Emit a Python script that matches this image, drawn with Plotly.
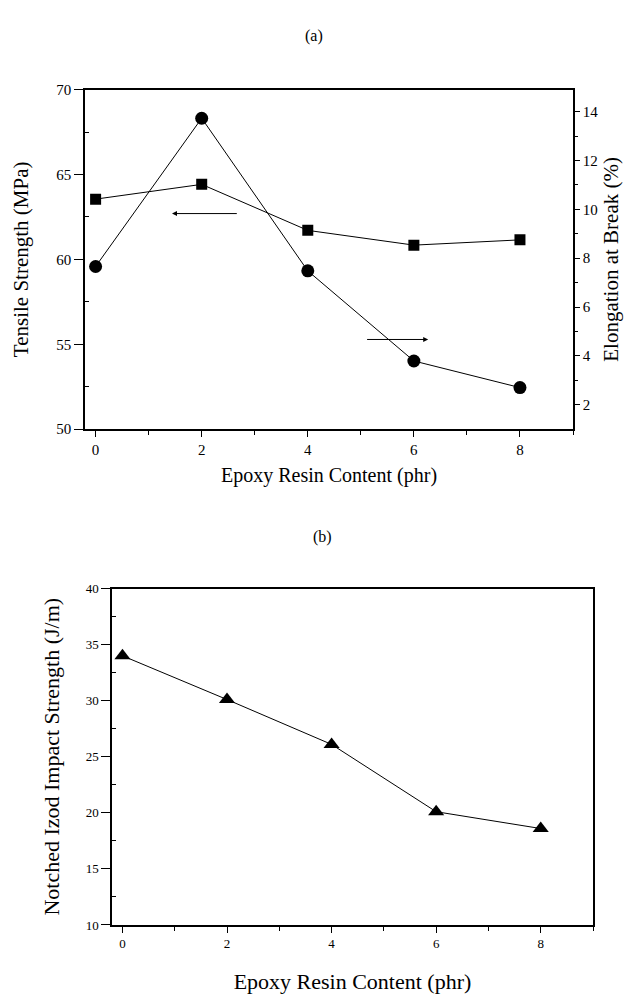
import plotly.graph_objects as go

# ---- data ----
epoxy_phr = [0, 2, 4, 6, 8]
tensile_mpa = [63.55, 64.42, 61.71, 60.84, 61.15]
elongation_pct = [7.66, 13.73, 7.48, 3.79, 2.70]
izod_jm = [34.0, 30.1, 26.1, 20.1, 18.6]

x_ticks = [0, 2, 4, 6, 8]
tensile_ticks = [50, 55, 60, 65, 70]
elong_ticks = [2, 4, 6, 8, 10, 12, 14]
izod_ticks = [10, 15, 20, 25, 30, 35, 40]

# arrows: (tail x, head x, y)
left_arrow = [2.69, 1.44, 62.7]     # on tensile axis
right_arrow = [5.09, 6.27, 4.67]    # on elongation axis

W, H = 626, 994
FONT = "Liberation Serif"


def px_x(p):
    return p / W


def px_y(p):
    return 1 - p / H


fig = go.Figure()

fig.add_trace(go.Scatter(
    x=epoxy_phr, y=tensile_mpa, xaxis="x", yaxis="y", mode="lines+markers",
    line=dict(color="black", width=1),
    marker=dict(symbol="square", size=11, color="black"),
    showlegend=False))
fig.add_trace(go.Scatter(
    x=epoxy_phr, y=elongation_pct, xaxis="x", yaxis="y3", mode="lines+markers",
    line=dict(color="black", width=1),
    marker=dict(symbol="circle", size=13, color="black"),
    showlegend=False))
fig.add_trace(go.Scatter(
    x=epoxy_phr, y=izod_jm, xaxis="x2", yaxis="y2", mode="lines+markers",
    line=dict(color="black", width=1),
    marker=dict(symbol="triangle-up", size=14, color="black"),
    showlegend=False))

axis_common = dict(showgrid=False, zeroline=False, linecolor="black",
                   linewidth=1.5, ticks="outside", tickcolor="black",
                   tickwidth=1.2)

fig.update_layout(
    width=W, height=H, margin=dict(l=0, r=0, t=0, b=0),
    paper_bgcolor="white", plot_bgcolor="white",
    font=dict(family=FONT, color="black"),
    xaxis=dict(domain=[px_x(85), px_x(573)], anchor="y", range=[-0.2, 9],
               tickvals=x_ticks, mirror=True, ticklen=6,
               tickfont=dict(size=15),
               minor=dict(tickvals=[1, 3, 5, 7, 9], ticks="outside", ticklen=4,
                          tickcolor="black"),
               title=dict(text="Epoxy Resin Content (phr)", font=dict(size=20),
                          standoff=11),
               **axis_common),
    yaxis=dict(domain=[px_y(428), px_y(83)], anchor="x", range=[50, 70],
               tickvals=tensile_ticks, tickfont=dict(size=15), ticklen=9,
               minor=dict(tickvals=[52.5, 57.5, 62.5, 67.5], ticks="inside",
                          ticklen=4, tickcolor="black"),
               title=dict(text="Tensile Strength (MPa)", font=dict(size=21),
                          standoff=22),
               **axis_common),
    yaxis3=dict(overlaying="y", side="right", anchor="x", range=[1, 14.9],
                tickvals=elong_ticks, tickfont=dict(size=15), ticklen=5,
                minor=dict(tickvals=[3, 5, 7, 9, 11, 13], ticks="outside",
                           ticklen=3, tickcolor="black"),
                title=dict(text="Elongation at Break (%)", font=dict(size=21),
                           standoff=6),
                **axis_common),
    xaxis2=dict(domain=[px_x(112), px_x(593)], anchor="y2", range=[-0.2, 9],
                tickvals=x_ticks, mirror=True, tickfont=dict(size=13), ticklen=6,
                minor=dict(tickvals=[1, 3, 5, 7, 9], ticks="outside", ticklen=4,
                           tickcolor="black"),
                title=dict(text="Epoxy Resin Content (phr)", font=dict(size=22),
                           standoff=24),
                **axis_common),
    yaxis2=dict(domain=[px_y(932), px_y(590)], anchor="x2", range=[10, 40],
                tickvals=izod_ticks, mirror=True, tickfont=dict(size=13),
                ticklen=9,
                minor=dict(tickvals=[12.5, 17.5, 22.5, 27.5, 32.5, 37.5],
                           ticks="inside", ticklen=4, tickcolor="black"),
                title=dict(text="Notched Izod Impact Strength (J/m)",
                           font=dict(size=22), standoff=20),
                **axis_common),
)

fig.add_annotation(text="(a)", xref="paper", yref="paper", x=px_x(314),
                   y=px_y(28), showarrow=False, font=dict(size=16),
                   xanchor="center", yanchor="middle")
fig.add_annotation(text="(b)", xref="paper", yref="paper", x=px_x(322),
                   y=px_y(538), showarrow=False, font=dict(size=16),
                   xanchor="center", yanchor="middle")

fig.add_annotation(x=left_arrow[1], y=left_arrow[2], ax=left_arrow[0],
                   ay=left_arrow[2], xref="x", yref="y", axref="x", ayref="y",
                   text="", showarrow=True, arrowhead=2, arrowsize=1,
                   arrowwidth=1, arrowcolor="black")
fig.add_annotation(x=right_arrow[1], y=right_arrow[2], ax=right_arrow[0],
                   ay=right_arrow[2], xref="x", yref="y3", axref="x", ayref="y3",
                   text="", showarrow=True, arrowhead=2, arrowsize=1,
                   arrowwidth=1, arrowcolor="black")

fig.write_html("out.html")
